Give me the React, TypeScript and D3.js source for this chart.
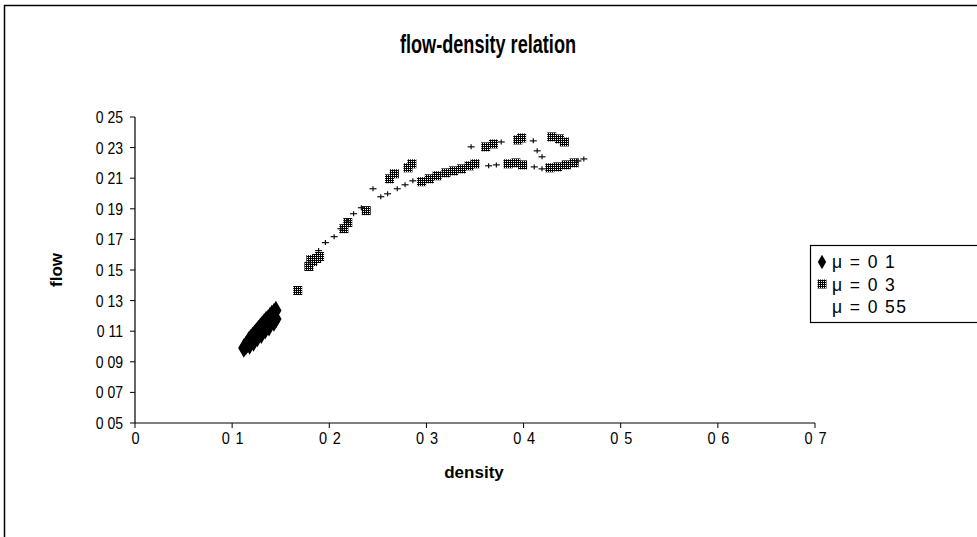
import React from "react";
import * as d3 from "d3";

const W = 977;
const H = 537;

const chartTitle = "flow-density relation";
const xTitle = "density";
const yTitle = "flow";

const xTicks = [0, 0.1, 0.2, 0.3, 0.4, 0.5, 0.6, 0.7];
const xTickLabels = ["0", "0 1", "0 2", "0 3", "0 4", "0 5", "0 6", "0 7"];
const yTicks = [0.05, 0.07, 0.09, 0.11, 0.13, 0.15, 0.17, 0.19, 0.21, 0.23, 0.25];
const yTickLabels = ["0 05", "0 07", "0 09", "0 11", "0 13", "0 15", "0 17", "0 19", "0 21", "0 23", "0 25"];

const seriesNames = ["\u03bc = 0 1", "\u03bc = 0 3", "\u03bc = 0 55"];

// mu = 0.1 (black diamonds)
const mu01: [number, number][] = [
  [0.112, 0.099], [0.114, 0.1005], [0.116, 0.102], [0.117, 0.1035], [0.119, 0.105],
  [0.121, 0.1065], [0.123, 0.108], [0.125, 0.1095], [0.127, 0.111], [0.129, 0.1125],
  [0.131, 0.114], [0.133, 0.1155], [0.135, 0.117], [0.137, 0.118], [0.139, 0.1195],
  [0.141, 0.121], [0.143, 0.122], [0.145, 0.1235],
  [0.118, 0.101], [0.122, 0.103], [0.126, 0.106], [0.130, 0.108], [0.134, 0.111],
  [0.138, 0.113], [0.143, 0.116], [0.145, 0.118],
];

// mu = 0.3 (checkered squares)
const mu03: [number, number][] = [
  [0.1675, 0.1366], [0.179, 0.1523], [0.181, 0.1568], [0.183, 0.1555], [0.187, 0.1575],
  [0.19, 0.1588], [0.215, 0.177], [0.219, 0.181], [0.238, 0.1888], [0.262, 0.2096],
  [0.267, 0.2129], [0.281, 0.2168], [0.285, 0.2194], [0.295, 0.2077], [0.303, 0.2096],
  [0.311, 0.2116], [0.32, 0.2135], [0.328, 0.2148], [0.336, 0.2161], [0.344, 0.2181],
  [0.35, 0.2194], [0.361, 0.2305], [0.369, 0.2324], [0.394, 0.235], [0.398, 0.2363],
  [0.429, 0.237], [0.437, 0.2357], [0.442, 0.2337], [0.384, 0.2194], [0.392, 0.22],
  [0.399, 0.2187], [0.427, 0.2168], [0.435, 0.2174], [0.444, 0.2187], [0.452, 0.22],
];

// mu = 0.55 (small dash marks)
const mu055: [number, number][] = [
  [0.179, 0.1549], [0.189, 0.1627], [0.196, 0.1679], [0.205, 0.1718], [0.212, 0.177],
  [0.219, 0.1822], [0.225, 0.1868], [0.233, 0.1907], [0.245, 0.2031], [0.253, 0.1979],
  [0.26, 0.1998], [0.27, 0.2031], [0.278, 0.2057], [0.286, 0.2083], [0.346, 0.2305],
  [0.364, 0.2181], [0.372, 0.2187], [0.377, 0.2337], [0.41, 0.2344], [0.414, 0.2279],
  [0.419, 0.224], [0.411, 0.2174], [0.419, 0.2161], [0.456, 0.2213], [0.462, 0.2226],
];

const FONT = "Arimo, 'Liberation Sans', Arial, sans-serif";

export default function App() {
  const x = d3.scaleLinear().domain([0, 0.7]).range([135, 815]);
  const y = d3.scaleLinear().domain([0.05, 0.25]).range([423, 117]);

  const diamond = d3.symbol().type(d3.symbolDiamond).size(80)() as string;
  const legendDiamond = d3.symbol().type(d3.symbolDiamond).size(60)() as string;

  return (
    <svg width={W} height={H} style={{ position: "absolute", left: 0, top: 0, background: "#fff" }}>
      <defs>
        <pattern id="chk" width={2} height={2} patternUnits="userSpaceOnUse">
          <rect x={0} y={0} width={2} height={2} fill="#000" />
          <rect x={1} y={1} width={1} height={1} fill="#fff" />
        </pattern>
      </defs>
      <rect x={0} y={0} width={W} height={H} fill="#fff" />
      <rect x={4.5} y={5.5} width={990} height={550} fill="none" stroke="#000" strokeWidth={1.5} />

      <text
        x={488}
        y={53}
        textAnchor="middle"
        fontFamily={FONT}
        fontWeight="bold"
        fontSize={25}
        textLength={176}
        lengthAdjust="spacingAndGlyphs"
      >
        {chartTitle}
      </text>

      {/* axes */}
      <line x1={x(0)} x2={x(0.7)} y1={y(0.05)} y2={y(0.05)} stroke="#000" strokeWidth={1.2} />
      <line x1={x(0)} x2={x(0)} y1={y(0.05)} y2={y(0.25)} stroke="#000" strokeWidth={1.2} />
      {yTicks.map((t, i) => (
        <g key={"yt" + i}>
          <line x1={x(0) - 5} x2={x(0)} y1={y(t)} y2={y(t)} stroke="#000" />
          <text
            transform={`translate(${x(0) - 12},${y(t) + 6}) scale(0.85,1)`}
            textAnchor="end"
            fontFamily={FONT}
            fontSize={16.5}
          >
            {yTickLabels[i]}
          </text>
        </g>
      ))}
      {xTicks.map((t, i) => (
        <g key={"xt" + i}>
          <line x1={x(t)} x2={x(t)} y1={y(0.05)} y2={y(0.05) + 5} stroke="#000" />
          <text
            transform={`translate(${x(t) + 1},${y(0.05) + 21}) scale(0.88,1)`}
            textAnchor="middle"
            fontFamily={FONT}
            fontSize={16.5}
            letterSpacing={1}
          >
            {xTickLabels[i]}
          </text>
        </g>
      ))}

      <text x={474} y={478} textAnchor="middle" fontFamily={FONT} fontWeight="bold" fontSize={17}>
        {xTitle}
      </text>
      <text
        transform={`translate(62,270) rotate(-90)`}
        textAnchor="middle"
        fontFamily={FONT}
        fontWeight="bold"
        fontSize={17}
      >
        {yTitle}
      </text>

      {/* series */}
      {mu01.map((d, i) => (
        <path key={"a" + i} d={diamond} transform={`translate(${x(d[0])},${y(d[1])})`} fill="#000" stroke="#000" strokeWidth={1.5} />
      ))}
      {mu03.map((d, i) => (
        <rect key={"b" + i} x={x(d[0]) - 4.5} y={y(d[1]) - 4.5} width={9} height={9} fill="url(#chk)" />
      ))}
      {mu055.map((d, i) => (
        <g key={"c" + i} transform={`translate(${x(d[0])},${y(d[1])})`} stroke="#111" strokeWidth={1.2}>
          <line x1={-3.5} x2={3.5} y1={0} y2={0} />
          <line x1={0} x2={0} y1={-2.5} y2={2.5} />
        </g>
      ))}

      {/* legend */}
      <rect x={810.5} y={245.5} width={200} height={77} fill="#fff" stroke="#000" strokeWidth={1.2} />
      <path d={legendDiamond} transform="translate(822,262)" fill="#000" />
      <rect x={817.5} y={279.5} width={9} height={9} fill="url(#chk)" />
      {seriesNames.map((s, i) => (
        <text key={"l" + i} x={832} y={268 + i * 22.5} fontFamily={FONT} fontSize={17.5} letterSpacing={1.4}>
          {s}
        </text>
      ))}
    </svg>
  );
}
